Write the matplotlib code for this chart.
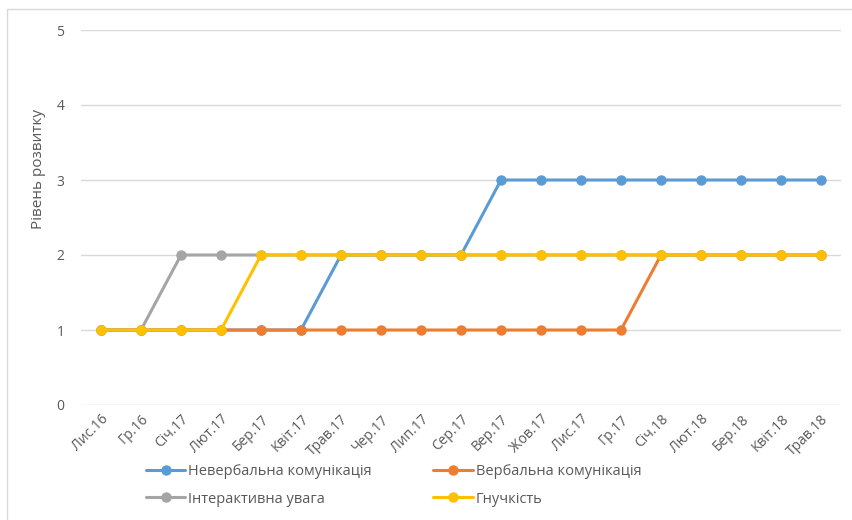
import matplotlib.pyplot as plt
from matplotlib.patches import Rectangle

plt.rcParams['font.family'] = ['Open Sans', 'DejaVu Sans']

months = ["Лис.16", "Гр.16", "Січ.17", "Лют.17", "Бер.17", "Квіт.17", "Трав.17",
          "Чер.17", "Лип.17", "Сер.17", "Вер.17", "Жов.17", "Лис.17", "Гр.17",
          "Січ.18", "Лют.18", "Бер.18", "Квіт.18", "Трав.18"]

nonverbal = [1, 1, 1, 1, 1, 1, 2, 2, 2, 2, 3, 3, 3, 3, 3, 3, 3, 3, 3]
verbal = [1, 1, 1, 1, 1, 1, 1, 1, 1, 1, 1, 1, 1, 1, 2, 2, 2, 2, 2]
attention = [1, 1, 2, 2, 2, 2, 2, 2, 2, 2, 2, 2, 2, 2, 2, 2, 2, 2, 2]
flexibility = [1, 1, 1, 1, 2, 2, 2, 2, 2, 2, 2, 2, 2, 2, 2, 2, 2, 2, 2]

series = [
    ("Невербальна комунікація", nonverbal, "#5B9BD5"),
    ("Вербальна комунікація", verbal, "#ED7D31"),
    ("Інтерактивна увага", attention, "#A5A5A5"),
    ("Гнучкість", flexibility, "#FFC000"),
]

text_color = "#595959"

fig = plt.figure(figsize=(8.53, 5.2), dpi=100)
fig.patches.append(Rectangle((7 / 853, -0.1), 1.2, 1 - 9 / 520 + 0.1,
                             transform=fig.transFigure, fill=False,
                             edgecolor="#d9d9d9", linewidth=1))
ax = fig.add_axes([81 / 853, 1 - 405 / 520, 760 / 853, 375 / 520])

x = list(range(len(months)))
lines = []
for label, values, color in series:
    ln, = ax.plot(x, values, color=color, linewidth=2.2, marker="o", markersize=6.5,
                  label=label, solid_capstyle="round")
    lines.append(ln)

ax.set_xlim(-0.5, len(months) - 0.5)
ax.set_ylim(0, 5)
ax.set_yticks(range(6))
ax.set_xticks(x)
ax.set_xticklabels(months, rotation=45, ha="right", rotation_mode="anchor")
ax.grid(axis="y", color="#d9d9d9", linewidth=1)
ax.set_axisbelow(True)
for s in ax.spines.values():
    s.set_visible(False)
ax.tick_params(axis="both", length=0, colors=text_color, labelsize=10)
ax.tick_params(axis="y", pad=12)
ax.tick_params(axis="x", pad=5)
ax.set_ylabel("Рівень розвитку", color=text_color, fontsize=11)
ax.yaxis.set_label_coords(-0.046, 0.63)

# legend is filled column-wise, so reorder to get rows like the original
order = [0, 2, 1, 3]
fig.legend([lines[i] for i in order], [series[i][0] for i in order],
           loc="upper left", bbox_to_anchor=(133 / 853, 1 - 451 / 520),
           ncol=2, frameon=False, fontsize=10.5, handlelength=2.7,
           columnspacing=4.2, labelspacing=0.85, handletextpad=0.2,
           labelcolor=text_color)

fig.savefig("out.png", dpi=100)
